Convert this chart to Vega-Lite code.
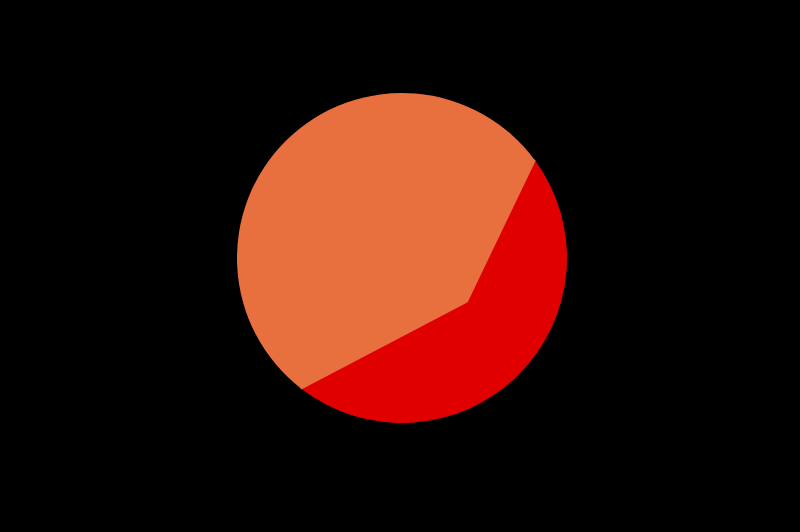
{
  "$schema": "https://vega.github.io/schema/vega-lite/v6.json",
  "description": "Two-part pie with a kinked boundary between the orange and red parts, on black.",
  "width": 796,
  "height": 516,
  "autosize": "none",
  "padding": {"left": 4, "right": 0, "top": 0, "bottom": 16},
  "background": "#000000",
  "datasets": {
    "slices": [
      {"part": "red", "share": 45.55, "rank": 1},
      {"part": "orange", "share": 54.45, "rank": 2}
    ],
    "wedge": [
      {"i": 1, "x": 0, "y": 0},
      {"i": 2, "x": 0.8015, "y": 0.5896},
      {"i": 3, "x": 0.392, "y": -0.263},
      {"i": 4, "x": -0.6077, "y": -0.7878},
      {"i": 5, "x": 0, "y": 0}
    ]
  },
  "layer": [
    {
      "data": {"name": "slices"},
      "mark": {"type": "arc", "outerRadius": 165},
      "encoding": {
        "theta": {
          "field": "share",
          "type": "quantitative",
          "stack": true,
          "scale": {"range": [0.9365, 7.2197]}
        },
        "color": {
          "field": "part",
          "type": "nominal",
          "scale": {"domain": ["red", "orange"], "range": ["#E00000", "#E8703F"]},
          "legend": null
        },
        "order": {"field": "rank", "type": "ordinal"}
      }
    },
    {
      "data": {"name": "wedge"},
      "mark": {
        "type": "line",
        "fill": "#E8703F",
        "stroke": "#E8703F",
        "strokeWidth": 2.5,
        "strokeJoin": "round",
        "strokeCap": "round",
        "opacity": 1
      },
      "encoding": {
        "x": {
          "field": "x",
          "type": "quantitative",
          "scale": {"domain": [-2.412, 2.412], "nice": false, "zero": false},
          "axis": null
        },
        "y": {
          "field": "y",
          "type": "quantitative",
          "scale": {"domain": [-1.5636, 1.5636], "nice": false, "zero": false},
          "axis": null
        },
        "order": {"field": "i", "type": "quantitative"}
      }
    }
  ],
  "config": {"view": {"stroke": null}}
}
